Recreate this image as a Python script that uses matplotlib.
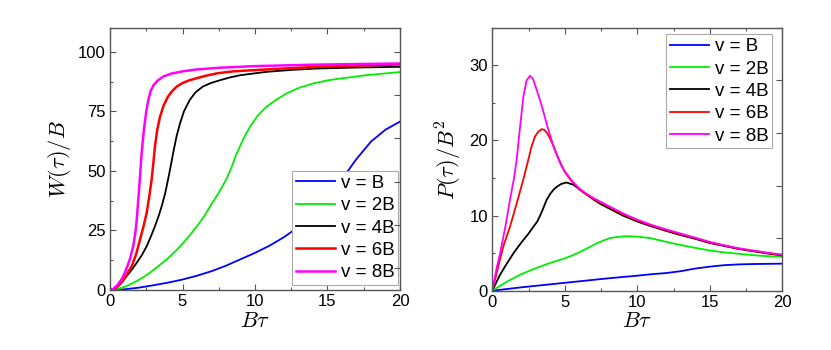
import matplotlib
matplotlib.use("Agg")
import matplotlib.pyplot as plt
from matplotlib.ticker import MultipleLocator

plt.rcParams['font.family'] = ['Liberation Sans', 'DejaVu Sans']
plt.rcParams['mathtext.fontset'] = 'cm'

labels = ["v = B", "v = 2B", "v = 4B", "v = 6B", "v = 8B"]
colors = ["#0000ff", "#00ee00", "#000000", "#ff0000", "#ff00ff"]

# ---- W(tau)/B data (left panel) ----
w_x_B  = [0, 1, 2, 3, 4, 5, 6, 7, 8, 9, 10, 11, 12, 13, 14, 15, 16, 17, 18, 19, 20]
w_y_B  = [0, 0.3, 1.0, 2.0, 3.1, 4.4, 6.0, 7.9, 10.2, 12.9, 15.6, 18.6, 22.2, 26.5, 31.8, 38.5, 46.5, 55.0, 62.3, 67.3, 70.7]
w_x_2B = [0, 0.5, 1.0, 1.6, 2.2, 2.76, 3.3, 3.9, 4.5, 5.06, 5.5, 6.0, 6.5, 6.9, 7.5, 8.05, 8.4, 8.7, 9.2, 9.66,
          10.2, 10.8, 11.5, 12.2, 13, 14, 15, 15.9, 17.7, 20]
w_y_2B = [0, 0.4, 1.3, 3.0, 5.0, 7.3, 9.9, 12.8, 16.2, 19.8, 23.0, 26.8, 31.0, 35.1, 40.8, 46.8, 51.8, 56.8, 63.5, 68.6,
          73.3, 77.0, 80.0, 82.6, 84.8, 86.7, 88.0, 88.8, 90.2, 91.5]
w_x_4B = [0, 0.4, 0.8, 1.15, 1.5, 1.84, 2.2, 2.53, 2.8, 3.1, 3.35, 3.56, 3.8, 4.0, 4.2, 4.4, 4.6, 4.83, 5.1, 5.5,
          5.9, 6.4, 7.0, 7.6, 8.3, 9.0, 10.8, 12.5, 14.3, 17, 20]
w_y_4B = [0, 0.6, 3.0, 5.9, 8.5, 11.4, 14.7, 18.4, 22.2, 26.8, 31.0, 35.1, 40.5, 46.3, 52.5, 58.9, 64.8, 70.0, 75.0, 79.8,
          83.0, 85.4, 87.0, 88.1, 89.3, 90.2, 91.6, 92.4, 93.0, 93.4, 93.7]
w_x_6B = [0, 0.3, 0.6, 1.0, 1.5, 1.8, 2.07, 2.3, 2.53, 2.7, 2.87, 3.0, 3.1, 3.25, 3.45, 3.7, 4.0, 4.3, 4.6, 5.0,
          5.5, 6.5, 7.4, 8.5, 9.9, 12, 14.3, 17, 20]
w_y_6B = [0, 0.5, 2.0, 5.0, 10.0, 15.0, 21.2, 26.5, 32.4, 39.0, 46.3, 54.0, 60.3, 67.0, 72.8, 77.5, 81.2, 83.6, 85.4, 86.9,
          88.1, 89.8, 91.0, 91.8, 92.3, 93.0, 93.7, 94.2, 94.7]
w_x_8B = [0, 0.2, 0.5, 0.8, 1.0, 1.2, 1.4, 1.6, 1.75, 1.85, 1.95, 2.05, 2.15, 2.25, 2.35, 2.5, 2.65, 2.8, 3.0, 3.3,
          3.7, 4.2, 5.0, 6.0, 7.5, 10, 14, 20]
w_y_8B = [0, 0.3, 2.0, 4.5, 7.0, 10.0, 13.5, 18.5, 24.0, 30.0, 38.0, 46.0, 55.0, 62.0, 68.0, 75.0, 80.0, 83.5, 86.0, 88.0,
          89.7, 90.8, 91.8, 92.6, 93.3, 94.0, 94.6, 95.1]

# ---- P(tau)/B^2 data (right panel) ----
p_x_B  = [0, 2, 4, 6, 8, 10, 11, 12, 13, 14, 15, 16, 17, 18, 20]
p_y_B  = [0, 0.45, 0.85, 1.25, 1.65, 2.0, 2.2, 2.35, 2.6, 2.95, 3.2, 3.4, 3.5, 3.55, 3.6]
p_x_2B = [0, 1, 2, 3, 4, 5, 5.6, 6.3, 6.8, 7.2, 7.7, 8.1, 8.6, 9.2, 10, 10.9, 12, 12.7, 14, 15, 16, 17.3, 18.5, 20]
p_y_2B = [0, 1.2, 2.2, 3.0, 3.7, 4.3, 4.75, 5.4, 5.9, 6.3, 6.7, 7.0, 7.15, 7.25, 7.2, 7.0, 6.5, 6.2, 5.7, 5.35, 5.1, 4.85, 4.65, 4.5]
p_x_4B = [0, 0.5, 1, 1.5, 2, 2.5, 2.83, 3.1, 3.3, 3.5, 3.75, 4.0, 4.25, 4.5, 4.75, 5.1, 5.6, 6, 6.5, 7, 7.5, 8, 9, 10,
          11, 12, 13, 14, 15, 16, 17, 18, 19, 20]
p_y_4B = [0, 2.0, 3.6, 5.1, 6.4, 7.6, 8.5, 9.2, 10.0, 10.9, 12.1, 12.9, 13.5, 13.9, 14.2, 14.4, 14.1, 13.5, 12.8, 12.1, 11.5, 11.0, 10.0, 9.2,
          8.55, 7.95, 7.4, 6.9, 6.35, 5.95, 5.55, 5.25, 4.95, 4.7]
p_x_6B = [0, 0.41, 0.76, 1.22, 1.68, 2.14, 2.48, 2.71, 2.94, 3.15, 3.4, 3.6, 3.8, 4.0, 4.25, 4.5, 4.75, 5, 5.5, 6, 6.5,
          7, 7.5, 8, 9, 10, 11, 12, 13, 14, 15, 16, 17, 18, 19, 20]
p_y_6B = [0, 3.2, 5.9, 8.5, 11.6, 14.8, 17.4, 19.2, 20.5, 21.1, 21.5, 21.4, 20.9, 20.2, 19.1, 17.9, 16.8, 15.8, 14.5, 13.5, 12.8,
          12.2, 11.7, 11.2, 10.2, 9.35, 8.65, 8.05, 7.5, 7.0, 6.4, 6.0, 5.6, 5.3, 5.0, 4.75]
p_x_8B = [0, 0.3, 0.53, 0.9, 1.22, 1.5, 1.68, 1.9, 2.14, 2.37, 2.6, 2.8, 3.0, 3.25, 3.5, 3.75, 4.0, 4.25, 4.5, 4.75, 5,
          5.5, 6, 6.5, 7, 7.5, 8, 9, 10, 11, 12, 13, 14, 15, 16, 17, 18, 19, 20]
p_y_8B = [0, 3.0, 4.9, 8.5, 12.1, 15.0, 17.4, 21.5, 25.8, 28.0, 28.6, 28.2, 27.1, 25.6, 24.0, 22.2, 20.6, 19.1, 17.8, 16.7, 15.9,
          14.6, 13.6, 12.9, 12.3, 11.8, 11.3, 10.3, 9.45, 8.75, 8.15, 7.6, 7.05, 6.5, 6.05, 5.65, 5.35, 5.05, 4.8]

W_series = [(w_x_B, w_y_B), (w_x_2B, w_y_2B), (w_x_4B, w_y_4B), (w_x_6B, w_y_6B), (w_x_8B, w_y_8B)]
P_series = [(p_x_B, p_y_B), (p_x_2B, p_y_2B), (p_x_4B, p_y_4B), (p_x_6B, p_y_6B), (p_x_8B, p_y_8B)]

fig = plt.figure(figsize=(8.31, 3.5), dpi=100)
ax1 = fig.add_axes([0.1324, 0.1714, 0.3489, 0.7486])
ax2 = fig.add_axes([0.5924, 0.1694, 0.3490, 0.7515])

spine_col = "#555555"

def style(ax, ylim, ymaj, ymin, rstep, roff):
    ax.set_xlim(0, 20)
    ax.set_ylim(*ylim)
    ax.xaxis.set_major_locator(MultipleLocator(5))
    ax.xaxis.set_minor_locator(MultipleLocator(2.5))
    ax.yaxis.set_major_locator(MultipleLocator(ymaj))
    ax.yaxis.set_minor_locator(MultipleLocator(ymin))
    ax.tick_params(which='both', direction='in', top=True, right=False,
                   labelsize=12, color=spine_col, width=0.8)
    ax.tick_params(which='major', length=4, pad=3)
    ax.tick_params(which='minor', length=2.5)
    for s in ax.spines.values():
        s.set_color(spine_col)
        s.set_linewidth(1.0)
    tw = ax.twinx()
    tw.set_ylim(*ylim)
    tw.yaxis.set_major_locator(MultipleLocator(rstep, offset=roff))
    tw.tick_params(direction='in', length=4, color=spine_col, width=0.8, labelright=False)
    for s in tw.spines.values():
        s.set_visible(False)
    ax.set_xlabel(r"$B\tau$", fontsize=16, labelpad=1)

leg_kw = dict(fontsize=13.5, handlelength=2.1, handletextpad=0.3, labelspacing=0.28,
              fancybox=False, framealpha=1, edgecolor="#aaaaaa", borderpad=0.2, borderaxespad=0)

for (x, y), c, lab in zip(W_series, colors, labels):
    lw = 1.8 if c in ("#ff0000", "#ff00ff") else 1.3
    ax1.plot(x, y, color=c, lw=lw, label=lab)
style(ax1, (0, 110), 25, 12.5, 18.2, 9.1)
ax1.set_ylabel(r"$W(\tau)/B$", fontsize=16, labelpad=4)
leg1 = ax1.legend(loc='upper left', bbox_to_anchor=(0.627, 0.454), **leg_kw)
leg1.get_frame().set_linewidth(0.8)

for (x, y), c, lab in zip(P_series, colors, labels):
    ax2.plot(x, y, color=c, lw=1.3, label=lab)
style(ax2, (0, 35), 10, 5, 7, 0)
ax2.set_ylabel(r"$P(\tau)/B^2$", fontsize=16, labelpad=4)
leg2 = ax2.legend(loc='upper right', bbox_to_anchor=(0.966, 0.975), **leg_kw)
leg2.get_frame().set_linewidth(0.8)

fig.savefig("out.png", dpi=100)
